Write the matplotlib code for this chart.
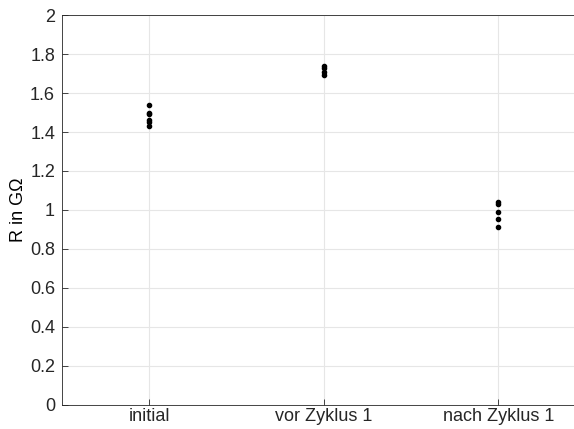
import matplotlib
matplotlib.use('Agg')
import matplotlib.pyplot as plt

# measured values (R in GOhm) per state
categories = ['initial', 'vor Zyklus 1', 'nach Zyklus 1']
r_initial = [1.54, 1.50, 1.49, 1.46, 1.45, 1.43]
r_vor = [1.74, 1.73, 1.71, 1.69]
r_nach = [1.04, 1.03, 0.99, 0.955, 0.915]
y_ticks = [0, 0.2, 0.4, 0.6, 0.8, 1, 1.2, 1.4, 1.6, 1.8, 2]

plt.rcParams['font.family'] = ['Liberation Sans', 'DejaVu Sans']

fig = plt.figure(figsize=(5.74, 4.29), dpi=100)
ax = fig.add_axes([0.108, 0.056, 0.912, 0.909])

for i, vals in enumerate([r_initial, r_vor, r_nach]):
    ax.plot([i + 1] * len(vals), vals, 'k.', markersize=6)

ax.set_xlim(0.5, 3.5)
ax.set_ylim(0, 2)
ax.set_xticks([1, 2, 3])
ax.set_xticklabels(categories)
ax.set_yticks(y_ticks)
ax.set_yticklabels(['0', '0.2', '0.4', '0.6', '0.8', '1', '1.2', '1.4', '1.6', '1.8', '2'])
ax.set_ylabel('R in G\u03a9', fontsize=13, labelpad=2)

ax.grid(True, color='#e6e6e6', linewidth=0.8)
ax.set_axisbelow(True)
ax.tick_params(direction='in', length=4, labelsize=13, colors='#262626', width=0.6, pad=5)
ax.tick_params(axis='x', pad=2)
for s in ax.spines.values():
    s.set_color('#262626')
    s.set_linewidth(0.6)
ax.spines['right'].set_visible(False)

fig.savefig('out.png', dpi=100)
